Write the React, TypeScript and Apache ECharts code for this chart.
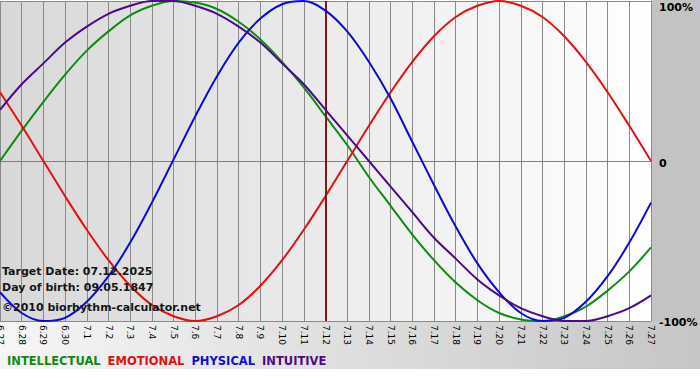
import React, { useEffect, useRef } from "react";
import * as echarts from "echarts";

const dates = [
  "6.27", "6.28", "6.29", "6.30", "7.1", "7.2", "7.3", "7.4", "7.5", "7.6", "7.7",
  "7.8", "7.9", "7.10", "7.11", "7.12", "7.13", "7.14", "7.15", "7.16", "7.17",
  "7.18", "7.19", "7.20", "7.21", "7.22", "7.23", "7.24", "7.25", "7.26", "7.27",
];

const intellectual = [
  0, 19, 37, 54, 69, 81, 91, 97, 100, 99, 95, 87, 76, 62, 46, 28, 10, -10, -28, -46,
  -62, -76, -87, -95, -99, -100, -97, -91, -81, -69, -54,
];
const emotional = [
  43, 22, 0, -22, -43, -62, -78, -90, -97, -100, -97, -90, -78, -62, -43, -22, 0, 22,
  43, 62, 78, 90, 97, 100, 97, 90, 78, 62, 43, 22, 0,
];
const physical = [
  -82, -95, -100, -98, -88, -72, -51, -26, 1, 28, 53, 74, 89, 98, 100, 94, 81, 62, 39,
  12, -15, -41, -64, -82, -95, -100, -98, -88, -72, -51, -26,
];
const intuitive = [
  32, 48, 61, 74, 84, 92, 97, 100, 100, 97, 92, 84, 74, 61, 48, 32, 16, 0, -16, -32,
  -48, -61, -74, -84, -92, -97, -100, -100, -97, -92, -84,
];

const seriesNames = ["INTELLECTUAL", "EMOTIONAL", "PHYSICAL", "INTUITIVE"];
const seriesColors = ["#128a12", "#e41010", "#0a0ad8", "#4b0a88"];
const legendColors = ["#128a12", "#e41010", "#1010d0", "#4b0a88"];

const targetDate = "7.12";
const infoLines = [
  "Target Date: 07.12.2025",
  "Day of birth: 09.05.1847",
  "\u00a92010 biorhythm-calculator.net",
];
const yTickLabels: Record<string, string> = { "100": "100%", "0": "0", "-100": "-100%" };

export default function App() {
  const ref = useRef<HTMLDivElement>(null);

  useEffect(() => {
    document.body.style.margin = "0";
    if (!ref.current) return;
    const chart = echarts.init(ref.current, undefined, { renderer: "svg" });
    const dataSets = [intellectual, emotional, physical, intuitive];

    const option: any = {
      animation: false,
      textStyle: { fontFamily: "DejaVu Sans" },
      grid: {
        left: 0,
        top: 1,
        width: 651,
        height: 320,
        containLabel: false,
        outerBoundsMode: "none",
        show: true,
        borderWidth: 0,
        backgroundColor: new echarts.graphic.LinearGradient(0, 0, 1, 0, [
          { offset: 0, color: "#d8d8d8" },
          { offset: 1, color: "#ffffff" },
        ]),
      },
      graphic: [
        {
          type: "rect",
          z: -10,
          shape: { x: 651, y: 0, width: 49, height: 321 },
          style: { fill: "#c3c3c3" },
        },
        {
          type: "rect",
          z: -10,
          shape: { x: 0, y: 321, width: 700, height: 48 },
          style: {
            fill: new echarts.graphic.LinearGradient(0, 0, 1, 0, [
              { offset: 0, color: "#f6f6f6" },
              { offset: 1, color: "#c6c6c6" },
            ]),
          },
        },
        ...infoLines.map((t, i) => ({
          type: "text",
          z: 50,
          x: 2,
          y: [271, 287, 307][i],
          style: {
            text: t,
            font: "bold 11px 'DejaVu Sans'",
            fill: "#151515",
            verticalAlign: "middle",
          },
        })),
      ],
      legend: {
        left: 2,
        top: 355,
        padding: 0,
        icon: "rect",
        itemWidth: 0,
        itemHeight: 0,
        itemGap: 2,
        selectedMode: false,
        data: seriesNames.map((n, i) => ({
          name: n,
          textStyle: {
            color: legendColors[i],
            fontWeight: "bold",
            fontSize: 11.5,
            fontFamily: "DejaVu Sans",
          },
        })),
      },
      xAxis: {
        type: "category",
        data: dates,
        boundaryGap: false,
        axisLine: { lineStyle: { color: "#808080", width: 1 } },
        axisTick: { show: true, length: 4, interval: 0, lineStyle: { color: "#808080" } },
        splitLine: { show: true, interval: 0, lineStyle: { color: "#8a8a8a", width: 1 } },
        axisLabel: {
          interval: 0,
          rotate: -90,
          margin: 4,
          fontSize: 9,
          color: "#000",
          fontFamily: "DejaVu Sans",
          hideOverlap: false,
        },
      },
      yAxis: {
        type: "value",
        position: "right",
        min: -100,
        max: 100,
        interval: 100,
        axisLine: { show: false },
        axisTick: { show: false },
        splitLine: { show: true, lineStyle: { color: "#8a8a8a", width: 1 } },
        axisLabel: {
          margin: 8,
          color: "#000",
          fontWeight: "bold",
          fontSize: 11,
          fontFamily: "DejaVu Sans",
          formatter: (v: number) => {
            const s = yTickLabels[String(v)] ?? "";
            if (v === 100) return "{top|" + s + "}";
            if (v === 0) return "{mid|" + s + "}";
            return "{bot|" + s + "}";
          },
          rich: {
            top: { fontWeight: "bold", fontSize: 11, padding: [12, 0, 0, 0], color: "#000" },
            mid: { fontWeight: "bold", fontSize: 11, padding: [4, 0, 0, 0], color: "#000" },
            bot: { fontWeight: "bold", fontSize: 11, padding: [2, 0, 0, 0], color: "#000" },
          },
        },
      },
      series: seriesNames.map((n, i) => ({
        name: n,
        type: "line",
        data: dataSets[i],
        smooth: 0.35,
        showSymbol: false,
        symbol: "none",
        lineStyle: { color: seriesColors[i], width: 2 },
        itemStyle: { color: seriesColors[i] },
        z: 3 + i,
        ...(i === 0
          ? {
              markLine: {
                silent: true,
                symbol: "none",
                label: { show: false },
                lineStyle: { color: "#7a1a1a", width: 2, type: "solid" },
                data: [{ xAxis: targetDate }],
              },
            }
          : {}),
      })),
    };

    chart.setOption(option);
    return () => chart.dispose();
  }, []);

  return (
    <div
      ref={ref}
      style={{ position: "absolute", left: 0, top: 0, width: 700, height: 380, background: "#ffffff" }}
    />
  );
}
